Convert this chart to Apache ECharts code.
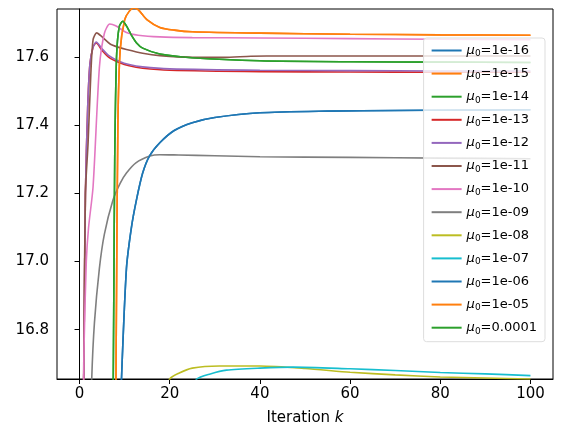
<!DOCTYPE html>
<html><head><meta charset="utf-8">
<script src="https://cdn.jsdelivr.net/npm/echarts@6/dist/echarts.min.js"></script>
<style>html,body{margin:0;background:#fff}#c{width:562px;height:440px}</style>
</head><body><div id="c"></div>
<script>
const labels = ['1e-16','1e-15','1e-14','1e-13','1e-12','1e-11','1e-10','1e-09','1e-08','1e-07','1e-06','1e-05','0.0001'];
const colors = ['#1f77b4','#ff7f0e','#2ca02c','#d62728','#9467bd','#8c564b','#e377c2','#7f7f7f','#bcbd22','#17becf','#1f77b4','#ff7f0e','#2ca02c'];
const blueK = [9,9.3,10.4,11.5,12.6,14,15.5,17.8,21,25,30,40,55,70,85,100];
const blueY = [16.5,16.655,16.98,17.1,17.18,17.26,17.31,17.349,17.385,17.408,17.423,17.437,17.442,17.444,17.445,17.446];
const orangeK = [8,8.2,8.5,9,10,11,12,13,15,17.8,21,25,40,60,80,100];
const orangeY = [16.5,16.9,17.4,17.62,17.71,17.735,17.745,17.74,17.71,17.688,17.68,17.675,17.671,17.668,17.666,17.665];
const greenK = [7.4,7.6,7.8,8.2,8.8,9.6,10.5,11.5,12.6,14,17.8,25,40,60,80,100];
const greenY = [16.5,16.9,17.3,17.6,17.69,17.706,17.69,17.665,17.643,17.627,17.61,17.599,17.59,17.587,17.586,17.585];
const redK = [0.8,1,1.3,1.8,2.3,3,3.7,5,6.5,8.9,11,14,20,40,60,80,100];
const redY = [16.5,16.75,17.2,17.45,17.58,17.63,17.642,17.62,17.6,17.584,17.575,17.568,17.562,17.558,17.557,17.556,17.556];
const purpleY = [16.5,16.75,17.2,17.45,17.58,17.63,17.645,17.625,17.605,17.588,17.579,17.572,17.566,17.562,17.561,17.56,17.56];
const brownK = [0.8,1,1.3,1.9,2.5,3,3.8,5,6.7,8.5,10.4,14,17.8,25,32,38,45,60,80,100];
const brownY = [16.5,16.8,17.2,17.35,17.55,17.652,17.672,17.66,17.64,17.63,17.623,17.612,17.605,17.6,17.6,17.603,17.604,17.604,17.604,17.604];
const pinkK = [0.8,1,1.5,2,3,4.4,5.5,6.7,8,10.4,13,17.8,25,40,60,80,100];
const pinkY = [16.5,16.75,17.0,17.1,17.22,17.57,17.67,17.698,17.693,17.673,17.665,17.66,17.658,17.657,17.655,17.653,17.652];
const grayK = [2.5,2.7,3.3,4.4,5.5,7.4,9,10.4,12.5,15.6,17.8,22,30,40,60,80,100];
const grayY = [16.5,16.655,16.82,16.98,17.08,17.18,17.23,17.26,17.29,17.31,17.314,17.313,17.311,17.308,17.306,17.304,17.302];
const oliveK = [19,20,22,25,31,40,50,60,70,80,90,100];
const oliveY = [16.6,16.655,16.672,16.687,16.693,16.693,16.686,16.675,16.667,16.661,16.658,16.655];
const cyanK = [25,26,29,32.6,40,47.4,60,70,80,90,100];
const cyanY = [16.62,16.655,16.67,16.681,16.687,16.69,16.685,16.68,16.674,16.67,16.665];
const kTicks = [0,20,40,60,80,100];
const yTicks = [16.8,17.0,17.2,17.4,17.6];

const zip = (a,b)=>a.map((k,i)=>[k,b[i]]);
const dataSets = [
  zip(blueK,blueY), zip(orangeK,orangeY), zip(greenK,greenY),
  zip(redK,redY), zip(redK,purpleY), zip(brownK,brownY), zip(pinkK,pinkY),
  zip(grayK,grayY), zip(oliveK,oliveY), zip(cyanK,cyanY),
  zip(blueK,blueY), zip(orangeK,orangeY), zip(greenK,greenY)
];
const names = labels.map(l=>'μ0='+l);
const chart = echarts.init(document.getElementById('c'));
chart.setOption({
  animation:false,
  grid:{left:57,right:9,top:9,bottom:61,show:true,borderColor:'#000',borderWidth:1},
  xAxis:{type:'value',min:-5,max:105,interval:20,
    axisLine:{onZero:false,lineStyle:{color:'#000'}},
    axisLabel:{fontSize:15,color:'#000',fontFamily:'DejaVu Sans',customValues:kTicks,margin:8},
    axisTick:{customValues:kTicks,length:5,lineStyle:{color:'#000'}},
    splitLine:{show:false},
    name:'{a|Iteration }{b|k}',nameLocation:'middle',nameGap:32,
    nameTextStyle:{rich:{a:{fontSize:15,fontFamily:'DejaVu Sans',color:'#000'},b:{fontSize:15,fontStyle:'italic',fontFamily:'DejaVu Sans',color:'#000'}}}
  },
  yAxis:{type:'value',min:16.655,max:17.742,
    axisLine:{show:true,lineStyle:{color:'#000'}},
    axisTick:{show:true,customValues:yTicks,length:5,lineStyle:{color:'#000'}},
    axisLabel:{fontSize:15,color:'#000',fontFamily:'DejaVu Sans',customValues:yTicks,formatter:v=>v.toFixed(1),margin:8},
    splitLine:{show:false}
  },
  legend:{orient:'vertical',right:17,top:38,itemGap:8.6,itemWidth:30,itemHeight:2,icon:'rect',
    backgroundColor:'rgba(255,255,255,0.8)',borderColor:'#ddd',borderWidth:1,borderRadius:3,padding:[6,8,6,8],
    data:names,
    formatter:n=>'{m|μ}{s|0}{t|'+n.slice(2)+'}',
    textStyle:{color:'#000',rich:{m:{fontSize:13,fontStyle:'italic',fontFamily:'DejaVu Sans',color:'#000'},s:{fontSize:9,verticalAlign:'bottom',padding:[7,0,0,0],fontFamily:'DejaVu Sans',color:'#000'},t:{fontSize:13,fontFamily:'DejaVu Sans',color:'#000'}}}
  },
  series:dataSets.map((d,i)=>({name:names[i],type:'line',data:d,smooth:0.25,showSymbol:false,clip:true,
    lineStyle:{width:1.6,color:colors[i]},itemStyle:{color:colors[i]}}))
});
</script></body></html>
